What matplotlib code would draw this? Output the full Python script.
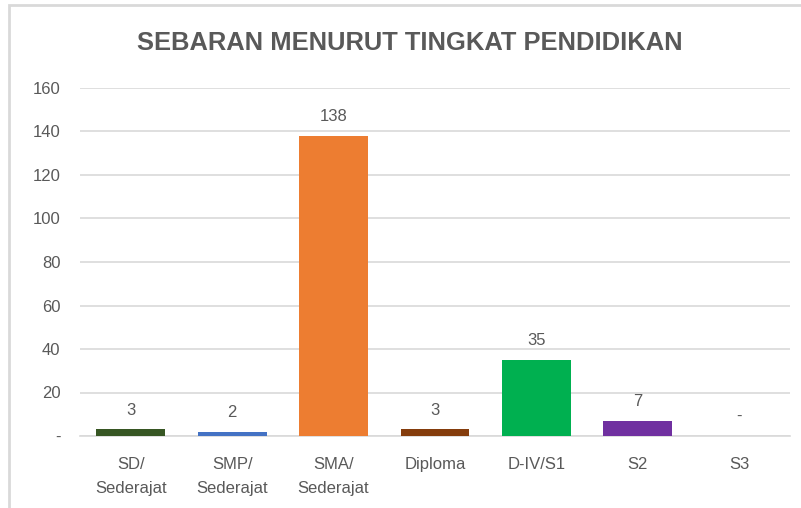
import matplotlib.pyplot as plt
from matplotlib.patches import Rectangle
import numpy as np

categories = ['SD/\nSederajat', 'SMP/\nSederajat', 'SMA/\nSederajat', 'Diploma', 'D-IV/S1', 'S2', 'S3']
values = [3, 2, 138, 3, 35, 7, 0]
colors = ['#375623', '#4472C4', '#ED7D31', '#843C0C', '#00B050', '#7030A0', '#A5A5A5']
yticks = [0, 20, 40, 60, 80, 100, 120, 140, 160]

plt.rcParams['font.family'] = ['Liberation Sans', 'DejaVu Sans']
txt = '#595959'

fig = plt.figure(figsize=(8.01, 5.08), dpi=100)
# chart border (light gray frame, only top and left visible)
fig.patches.append(Rectangle((9 / 801, -0.1), 1.2, 1 - 5.5 / 508 + 0.1, transform=fig.transFigure,
                             fill=False, edgecolor='#d9d9d9', linewidth=2))

ax = fig.add_axes([80 / 801, (508 - 436) / 508, 710 / 801, (436 - 88) / 508])
x = np.arange(len(categories))
ax.bar(x, values, width=0.68, color=colors, zorder=3)
for xi, v in zip(x, values):
    ax.text(xi, v + 5.5, '-' if v == 0 else str(v), ha='center', va='bottom', fontsize=12, color=txt)

ax.set_xlim(-0.5, len(categories) - 0.5)
ax.set_ylim(0, 160)
ax.set_yticks(yticks)
ax.set_yticklabels(['-' if t == 0 else str(t) for t in yticks])
ax.set_xticks(x)
ax.set_xticklabels(categories, linespacing=1.75)
ax.tick_params(axis='both', length=0, labelsize=12, labelcolor=txt)
ax.tick_params(axis='y', pad=14)
ax.tick_params(axis='x', pad=15)
ax.grid(axis='y', color='#d9d9d9', linewidth=1.2, zorder=0)
for s in ['top', 'right', 'left']:
    ax.spines[s].set_visible(False)
ax.spines['bottom'].set_color('#d9d9d9')
ax.spines['bottom'].set_linewidth(1.2)

fig.text(410 / 801, 1 - 43 / 508, 'SEBARAN MENURUT TINGKAT PENDIDIKAN', ha='center', va='center',
         fontsize=18.4, fontweight='bold', color=txt)

fig.savefig('out.png', dpi=100)
